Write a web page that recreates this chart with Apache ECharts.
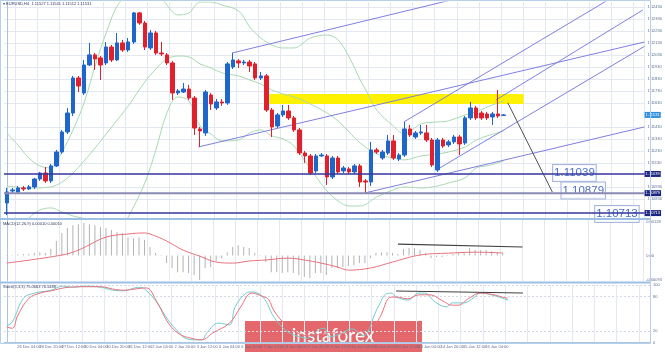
<!DOCTYPE html>
<html>
<head>
<meta charset="utf-8">
<script src="https://cdn.jsdelivr.net/npm/echarts@6/dist/echarts.min.js"></script>
<style>
html, body { margin: 0; padding: 0; background: #fff; }
#chart { width: 665px; height: 352px; }
</style>
</head>
<body>
<div id="chart"></div>
<script>
// EURUSD H4, 24 Dec 2019 - 16 Jan 2020
const tickLabels = [
  '24 Dec 2019', '26 Dec 04:00', '26 Dec 20:00', '27 Dec 12:00', '30 Dec 04:00', '30 Dec 20:00',
  '31 Dec 12:00', '2 Jan 04:00', '2 Jan 20:00', '3 Jan 12:00', '6 Jan 04:00', '6 Jan 20:00',
  '7 Jan 12:00', '8 Jan 04:00', '8 Jan 20:00', '9 Jan 12:00', '10 Jan 04:00', '10 Jan 20:00',
  '13 Jan 12:00', '14 Jan 04:00', '14 Jan 20:00', '15 Jan 12:00', '16 Jan 04:00'
]

// [open, close, low, high]
const candles = [
  [1.10797, 1.10889, 1.10697, 1.10922], [1.10897, 1.10906, 1.10881, 1.10922], [1.10889, 1.10922, 1.10881, 1.10939],
  [1.10922, 1.10914, 1.10897, 1.10939], [1.10914, 1.10931, 1.10906, 1.10947], [1.10931, 1.10997, 1.10914, 1.11006],
  [1.10997, 1.11047, 1.10981, 1.11056], [1.11047, 1.10981, 1.10964, 1.11097], [1.10981, 1.11106, 1.10964, 1.11122],
  [1.11106, 1.11222, 1.11097, 1.11239], [1.11222, 1.11389, 1.11206, 1.11406], [1.11389, 1.11547, 1.11372, 1.11589],
  [1.11547, 1.11839, 1.11522, 1.11856], [1.11839, 1.11772, 1.11722, 1.11856], [1.11714, 1.11947, 1.11697, 1.11989],
  [1.11947, 1.12031, 1.11939, 1.12131], [1.12031, 1.11997, 1.11906, 1.12047], [1.12006, 1.11947, 1.11822, 1.12022],
  [1.11964, 1.12097, 1.11947, 1.12139], [1.12097, 1.11989, 1.11972, 1.12114], [1.11989, 1.12131, 1.11981, 1.12214],
  [1.12131, 1.12072, 1.12056, 1.12156], [1.12072, 1.12139, 1.12056, 1.12172], [1.12139, 1.12381, 1.12122, 1.12389],
  [1.12381, 1.12297, 1.12281, 1.12389], [1.12297, 1.12097, 1.12072, 1.12314], [1.12089, 1.12214, 1.12072, 1.12239],
  [1.12214, 1.12047, 1.12031, 1.12231], [1.12047, 1.12039, 1.12022, 1.12139], [1.12031, 1.11964, 1.11947, 1.12047],
  [1.11964, 1.11714, 1.11656, 1.11981], [1.11714, 1.11731, 1.11697, 1.11747], [1.11722, 1.11747, 1.11714, 1.11797],
  [1.11747, 1.11672, 1.11656, 1.11781], [1.11672, 1.11422, 1.11364, 1.11689], [1.11414, 1.11397, 1.11264, 1.11431],
  [1.11381, 1.11722, 1.11356, 1.11739], [1.11697, 1.11622, 1.11572, 1.11714], [1.11589, 1.11639, 1.11572, 1.11664],
  [1.11639, 1.11631, 1.11606, 1.11664], [1.11631, 1.11956, 1.11614, 1.11972], [1.11931, 1.11989, 1.11914, 1.12047],
  [1.11981, 1.11964, 1.11922, 1.11997], [1.11964, 1.11972, 1.11947, 1.11989], [1.11972, 1.11939, 1.11889, 1.11989],
  [1.11956, 1.11839, 1.11822, 1.11972], [1.11839, 1.11856, 1.11822, 1.11889], [1.11856, 1.11572, 1.11556, 1.11872],
  [1.11572, 1.11431, 1.11347, 1.11589], [1.11439, 1.11531, 1.11422, 1.11547], [1.11531, 1.11564, 1.11514, 1.11614],
  [1.11564, 1.11506, 1.11489, 1.11614], [1.11506, 1.11406, 1.11389, 1.11522], [1.11406, 1.11214, 1.11197, 1.11422],
  [1.11214, 1.11189, 1.11131, 1.11231], [1.11189, 1.11047, 1.11031, 1.11206], [1.11064, 1.11189, 1.11047, 1.11206],
  [1.11189, 1.11197, 1.11181, 1.11214], [1.11189, 1.11014, 1.10947, 1.11206], [1.11014, 1.11172, 1.10997, 1.11189],
  [1.11172, 1.11056, 1.11039, 1.11189], [1.11064, 1.11089, 1.11047, 1.11106], [1.11081, 1.11056, 1.11039, 1.11097],
  [1.11056, 1.11106, 1.11039, 1.11122], [1.11106, 1.10972, 1.10931, 1.11122], [1.10981, 1.10972, 1.10881, 1.10997],
  [1.10972, 1.11239, 1.10939, 1.11306], [1.11239, 1.11222, 1.11206, 1.11256], [1.11172, 1.11222, 1.11156, 1.11239],
  [1.11214, 1.11314, 1.11197, 1.11364], [1.11314, 1.11172, 1.11156, 1.11364], [1.11164, 1.11197, 1.11147, 1.11214],
  [1.11197, 1.11414, 1.11181, 1.11472], [1.11414, 1.11364, 1.11347, 1.11447], [1.11347, 1.11381, 1.11331, 1.11397],
  [1.11381, 1.11389, 1.11364, 1.11447], [1.11381, 1.11322, 1.11306, 1.11447], [1.11322, 1.11114, 1.11097, 1.11339],
  [1.11072, 1.11322, 1.11056, 1.11339], [1.11322, 1.11272, 1.11256, 1.11339], [1.11281, 1.11306, 1.11264, 1.11322],
  [1.11306, 1.11347, 1.11289, 1.11364], [1.11347, 1.11289, 1.11197, 1.11364], [1.11297, 1.11506, 1.11281, 1.11522],
  [1.11506, 1.11589, 1.11489, 1.11639], [1.11589, 1.11506, 1.11489, 1.11606], [1.11547, 1.11506, 1.11489, 1.11564],
  [1.11539, 1.11506, 1.11489, 1.11556], [1.11514, 1.11539, 1.11447, 1.11556], [1.11539, 1.11522, 1.11506, 1.11739],
  [1.11527, 1.11531, 1.11522, 1.11539]
]

// Bollinger bands, read at sample bars: [bar, price]
const bbUpper = [
  [0, 1.11381], [2, 1.11281], [4, 1.11172], [6, 1.11106], [8, 1.11089], [10, 1.11222], [12, 1.11406],
  [14, 1.11631], [16, 1.11939], [18, 1.12214], [20, 1.12439], [22, 1.12531], [25, 1.12639], [27, 1.12581],
  [29, 1.12447], [31, 1.12364], [33, 1.12381], [35, 1.12472], [37, 1.12472], [39, 1.12447], [42, 1.12397],
  [44, 1.12264], [46, 1.12172], [48, 1.12114], [50, 1.12089], [52, 1.12089], [55, 1.12172], [58, 1.12197],
  [60, 1.12156], [62, 1.12014], [64, 1.11822], [65, 1.11739], [67, 1.11572], [70, 1.11439], [72, 1.11372],
  [75, 1.11456], [78, 1.11472], [80, 1.11481], [83, 1.11531], [85, 1.11556], [87, 1.11597], [90, 1.11647]
]
const bbMiddle = [
  [0, 1.10939], [4, 1.10922], [8, 1.10931], [10, 1.10972], [12, 1.11047], [14, 1.11147], [16, 1.11256],
  [18, 1.11372], [20, 1.11489], [22, 1.11606], [25, 1.11806], [27, 1.11914], [29, 1.11997], [31, 1.12022],
  [33, 1.12014], [35, 1.11956], [37, 1.11922], [39, 1.11881], [42, 1.11856], [44, 1.11822], [46, 1.11789],
  [48, 1.11739], [50, 1.11706], [52, 1.11681], [55, 1.11622], [58, 1.11547], [60, 1.11481], [62, 1.11389],
  [64, 1.11297], [67, 1.11206], [70, 1.11172], [72, 1.11156], [75, 1.11189], [78, 1.11206], [80, 1.11222],
  [83, 1.11264], [85, 1.11322], [87, 1.11356], [90, 1.11397]
]
const bbLower = [
  [0, 1.10497], [2, 1.10581], [4, 1.10672], [6, 1.10739], [8, 1.10756], [10, 1.10722], [12, 1.10689],
  [14, 1.10664], [16, 1.10589], [18, 1.10531], [20, 1.10539], [22, 1.10681], [25, 1.10964], [27, 1.11239],
  [29, 1.11547], [31, 1.11681], [33, 1.11647], [35, 1.11439], [37, 1.11372], [39, 1.11314], [42, 1.11322],
  [44, 1.11381], [46, 1.11406], [48, 1.11356], [50, 1.11331], [52, 1.11272], [55, 1.11081], [58, 1.10897],
  [60, 1.10814], [62, 1.10772], [64, 1.10772], [67, 1.10847], [70, 1.10906], [72, 1.10931], [75, 1.10922],
  [78, 1.10939], [80, 1.10964], [83, 1.11006], [85, 1.11089], [87, 1.11106], [90, 1.11147]
]

// MACD(12,26,9) main, one value per bar
const macdMain = [
  0.00002, 0.00002, 0.00004, 0.00006, 0.00006, 0.00010, 0.00013, 0.00010, 0.00025, 0.00056,
  0.00087, 0.00106, 0.00117, 0.00121, 0.00125, 0.00121, 0.00117, 0.00110, 0.00106, 0.00098,
  0.00090, 0.00087, 0.00071, 0.00067, 0.00071, 0.00060, 0.00033, 0.00010, 0.00002, -0.00029,
  -0.00048, -0.00064, -0.00064, -0.00067, -0.00075, -0.00094, -0.00048, -0.00044, -0.00021, -0.00010,
  0.00013, 0.00033, 0.00040, 0.00033, 0.00029, 0.00010, 0.00002, -0.00025, -0.00064, -0.00064,
  -0.00067, -0.00064, -0.00067, -0.00075, -0.00083, -0.00087, -0.00067, -0.00067, -0.00075, -0.00048,
  -0.00048, -0.00044, -0.00040, -0.00037, -0.00029, -0.00029, -0.00010, 0.00010, 0.00013, 0.00013,
  0.00010, 0.00006, 0.00025, 0.00029, 0.00029, 0.00021, 0.00010, -0.00010, -0.00006, -0.00006,
  -0.00002, 0.00006, 0.00010, 0.00013, 0.00029, 0.00021, 0.00021, 0.00021, 0.00017, 0.00013,
  0.00010
]
const macdSignal = [
  [0, -0.00029], [10, 0.00002], [13, 0.00021], [18, 0.00071], [22, 0.00083], [25, 0.00087], [27, 0.00075],
  [29, 0.00056], [32, 0.00021], [35, -0.00002], [38, -0.00025], [41, -0.00029], [44, -0.00021], [47, -0.00017],
  [51, -0.00010], [54, -0.00017], [57, -0.00029], [60, -0.00044], [62, -0.00056], [66, -0.00048], [70, -0.00025],
  [75, 0.00002], [81, 0.00010], [85, 0.00013], [90, 0.00010]
]

// Stochastic(5,3,3)
const stochMain = [
  [0, 29], [1, 36], [3, 77], [5, 86], [8, 91], [10, 98], [12, 96], [14, 98], [17, 96], [19, 91], [21, 90],
  [23, 95], [24, 96], [25, 91], [27, 69], [29, 39], [31, 17], [32, 8], [34, 5], [35, 5], [36, 18], [38, 34],
  [40, 31], [41, 62], [43, 86], [44, 88], [46, 79], [48, 44], [50, 22], [52, 12], [54, 8], [56, 22], [57, 25],
  [58, 10], [60, 16], [62, 24], [64, 12], [65, 22], [66, 48], [67, 68], [68, 84], [69, 86], [70, 79], [72, 74],
  [74, 86], [75, 86], [77, 70], [79, 62], [80, 69], [82, 69], [84, 79], [85, 86], [87, 83], [89, 77], [90, 74]
]
const stochSignal = [
  [0, 27], [1, 25], [2, 48], [4, 77], [6, 86], [8, 90], [11, 96], [14, 97], [17, 97], [19, 93], [21, 91],
  [23, 93], [25, 95], [27, 70], [29, 34], [31, 15], [33, 8], [35, 5], [37, 17], [40, 34], [42, 62], [44, 86],
  [46, 80], [47, 75], [48, 55], [50, 32], [52, 18], [54, 12], [56, 14], [58, 18], [60, 15], [62, 20], [64, 20],
  [65, 25], [66, 30], [67, 44], [69, 79], [70, 79], [72, 76], [74, 83], [76, 83], [78, 74], [80, 65], [81, 65],
  [83, 77], [85, 86], [87, 84], [89, 79], [90, 77]
]

const priceTicks = [
  1.1243, 1.1233, 1.1223, 1.1213, 1.1203, 1.1193, 1.1183, 1.1173, 1.1163, 1.1143,
  1.1133, 1.1123, 1.1113, 1.1093, 1.1083
]
const levels = [1.11039, 1.10879, 1.10713]
const lastPrice = 1.11531

// drawn objects: [bar, price]
const channelLines = [
  [[34.7, 1.11264], [115.5, 1.12139]],
  [[40.8, 1.12047], [83.2, 1.12519]],
  [[64.9, 1.10881], [115.5, 1.11431]],
  [[71.9, 1.11472], [110.2, 1.12525]],
  [[77.8, 1.11072], [115.5, 1.12103]],
  [[88.6, 1.11656], [115.2, 1.12406]]
]
const resistanceZone = [[47.6, 1.11706], [93.6, 1.11622]]
const projection = [[90.75, 1.11631], [98.8, 1.10889]]
const macdDivergence = [[71, 0.00044], [93.6, 0.00033]]
const stochDivergence = [[69.9, 89.6], [92.7, 86.1]]

const SLOTS = 116
const RIGHT_EDGE = SLOTS - 0.5
const cats = Array.from({ length: SLOTS }, (_, i) => String(i))

const GRID_C = '#e4e8f0'
const AXIS_C = '#a9c4e4'
const TXT_C = '#5d6c8c'
const FONT = 'Liberation Sans, Arial, sans-serif'

function catAxis(gridIndex, labels) {
  return {
    type: 'category', gridIndex, data: cats, boundaryGap: true,
    axisLine: { show: labels, lineStyle: { color: AXIS_C } },
    axisTick: { show: false },
    axisLabel: labels ? {
      interval: 3, fontSize: 4, color: TXT_C, margin: 2, fontFamily: FONT, alignMinLabel: 'left',
      formatter: (v) => tickLabels[Number(v) / 4] || ''
    } : { show: false },
    splitLine: { show: true, interval: (i) => i % 4 === 2, lineStyle: { color: GRID_C, width: 1 } }
  }
}
function valAxis(gridIndex) {
  return { type: 'value', gridIndex, min: -0.5, max: RIGHT_EDGE, show: false }
}
function segment(points, xAxisIndex, yAxisIndex, color, width, z) {
  return {
    type: 'line', xAxisIndex, yAxisIndex, data: points, symbol: 'none', silent: true,
    lineStyle: { color, width }, z: z || 3
  }
}
function band(points) {
  return {
    type: 'line', xAxisIndex: 3, yAxisIndex: 0, data: points, symbol: 'none', smooth: 0.35, silent: true,
    lineStyle: { color: '#a9d9b1', width: 1 }, z: 2
  }
}
function levelLabel(bar, price, text) {
  return {
    coord: [bar, price], value: text,
    label: {
      show: true, position: 'inside', formatter: text, fontSize: 11.5, color: '#4d6fc4',
      fontFamily: 'Liberation Sans Narrow, Arial Narrow, Arial, sans-serif',
      backgroundColor: 'rgba(255,255,255,0.85)', borderColor: '#a8b8dc', borderWidth: 1, padding: [2, 1]
    }
  }
}
function axisTag(price, bg) {
  return {
    coord: [RIGHT_EDGE, price], value: price,
    label: {
      show: true, position: 'right', distance: 0, formatter: price.toFixed(5), fontSize: 4, color: '#fff',
      backgroundColor: bg, padding: [1, 1], fontFamily: FONT
    }
  }
}

const chart = echarts.init(document.getElementById('chart'))

chart.setOption({
  animation: false,
  grid: [
    { left: 4, right: 15, top: 2, height: 216 },
    { left: 4, right: 15, top: 220, height: 61 },
    { left: 4, right: 15, top: 285, height: 57.7 }
  ],
  xAxis: [catAxis(0, false), catAxis(1, false), catAxis(2, true), valAxis(0), valAxis(1), valAxis(2)],
  yAxis: [
    {
      type: 'value', gridIndex: 0, position: 'right', min: 1.10672, max: 1.12472, scale: true,
      axisLine: { show: true, lineStyle: { color: AXIS_C } },
      axisTick: { show: false, customValues: priceTicks },
      axisLabel: { customValues: priceTicks, fontSize: 4, color: TXT_C, margin: 3, fontFamily: FONT, formatter: (v) => v.toFixed(5) },
      splitLine: { show: true, lineStyle: { color: GRID_C } }
    },
    {
      type: 'value', gridIndex: 1, position: 'right', min: -0.00098, max: 0.00137,
      axisLine: { show: true, lineStyle: { color: AXIS_C } },
      axisTick: { show: false, customValues: [0.00128, 0, -0.00093] },
      axisLabel: { customValues: [0.00128, 0, -0.00093], fontSize: 4, color: TXT_C, margin: 3, fontFamily: FONT, formatter: (v) => v === 0 ? '0.00' : v.toFixed(5) },
      splitLine: { show: false }
    },
    {
      type: 'value', gridIndex: 2, position: 'right', min: 0, max: 100,
      axisLine: { show: true, lineStyle: { color: AXIS_C } },
      axisTick: { show: false, customValues: [0, 20, 80, 100] },
      axisLabel: { customValues: [0, 20, 80, 100], fontSize: 4, color: TXT_C, margin: 3, fontFamily: FONT },
      splitLine: { show: true, lineStyle: { color: '#d3d9e4', type: [2, 2] } }
    }
  ],
  series: [
    band(bbUpper), band(bbMiddle), band(bbLower),
    {
      type: 'line', xAxisIndex: 3, yAxisIndex: 0, data: [], symbol: 'none', silent: true,
      markArea: {
        silent: true, itemStyle: { color: '#fff200' },
        data: [[{ coord: resistanceZone[0] }, { coord: resistanceZone[1] }]]
      },
      z: 1
    },
    ...channelLines.map(p => segment(p, 3, 0, '#7f7fe0', 1)),
    segment(projection, 3, 0, '#505050', 1),
    segment([[-0.5, levels[0]], [RIGHT_EDGE, levels[0]]], 3, 0, '#35359e', 1.5, 5),
    segment([[-0.5, levels[1]], [RIGHT_EDGE, levels[1]]], 3, 0, '#8a8ab4', 2, 5),
    segment([[-0.5, levels[2]], [RIGHT_EDGE, levels[2]]], 3, 0, '#35359e', 1.5, 5),
    {
      type: 'line', xAxisIndex: 3, yAxisIndex: 0, data: [], symbol: 'none', silent: true, z: 8,
      markPoint: {
        symbol: 'circle', symbolSize: 0.1, itemStyle: { color: 'rgba(0,0,0,0)' },
        data: [
          levelLabel(102.8, 1.11047, '1.11039'),
          levelLabel(104.4, 1.10902, '1.10879'),
          levelLabel(110.5, 1.10706, '1.10713'),
          axisTag(levels[0], '#1c2680'),
          axisTag(levels[1], '#1c2680'),
          axisTag(levels[2], '#1c2680'),
          axisTag(lastPrice, '#2f8fe0')
        ]
      }
    },
    {
      type: 'candlestick', xAxisIndex: 0, yAxisIndex: 0, data: candles, barWidth: 4, z: 4,
      itemStyle: { color: '#1f66cc', color0: '#e0202a', borderColor: '#1f66cc', borderColor0: '#e0202a', borderWidth: 1 }
    },
    {
      type: 'bar', xAxisIndex: 1, yAxisIndex: 1, data: macdMain, barWidth: 1, silent: true,
      itemStyle: { color: '#b3b3b3' }
    },
    {
      type: 'line', xAxisIndex: 4, yAxisIndex: 1, data: macdSignal, symbol: 'none', smooth: 0.4, silent: true,
      lineStyle: { color: '#e8707c', width: 1 }
    },
    segment(macdDivergence, 4, 1, '#404040', 1.2),
    {
      type: 'line', xAxisIndex: 5, yAxisIndex: 2, data: stochMain, symbol: 'none', smooth: 0.4, silent: true,
      lineStyle: { color: '#72cccc', width: 1 }
    },
    {
      type: 'line', xAxisIndex: 5, yAxisIndex: 2, data: stochSignal, symbol: 'none', smooth: 0.4, silent: true,
      lineStyle: { color: '#e8707c', width: 1 }
    },
    segment(stochDivergence, 5, 2, '#404040', 1.2)
  ],
  graphic: [
    { type: 'rect', shape: { x: 0.5, y: 0.5, width: 650, height: 343 }, style: { fill: null, stroke: '#b8cfe8', lineWidth: 1 }, silent: true, z: 10 },
    { type: 'rect', shape: { x: 0, y: 218, width: 650, height: 2 }, style: { fill: '#9ec0e4' }, silent: true, z: 10 },
    { type: 'rect', shape: { x: 0, y: 281.5, width: 650, height: 2 }, style: { fill: '#9ec0e4' }, silent: true, z: 10 },
    { type: 'text', left: 3, top: 2, style: { text: '\u25be EURUSD,H4  1.11527 1.11541 1.11512 1.11531', fontSize: 4, fill: '#303a60', fontFamily: FONT }, silent: true, z: 10 },
    { type: 'text', left: 3, top: 222, style: { text: 'MACD(12,26,9) 0.00010 0.00010', fontSize: 4, fill: '#303a60', fontFamily: FONT }, silent: true, z: 10 },
    { type: 'text', left: 3, top: 285, style: { text: 'Stoch(5,3,3) 75.0663 76.5488', fontSize: 4, fill: '#303a60', fontFamily: FONT }, silent: true, z: 10 },
    {
      type: 'group', left: 245, top: 321, z: 20, silent: true,
      children: [
        { type: 'rect', shape: { x: 0, y: 0, width: 177, height: 31 }, style: { fill: '#e4686b' } },
        { type: 'text', x: 88, y: 15, style: { text: 'instaforex', fontSize: 19, fill: '#fff', fontFamily: 'Lato, Open Sans, sans-serif', textAlign: 'center', textVerticalAlign: 'middle' } }
      ]
    }
  ]
})

window.addEventListener('resize', () => chart.resize())
</script>
</body>
</html>
